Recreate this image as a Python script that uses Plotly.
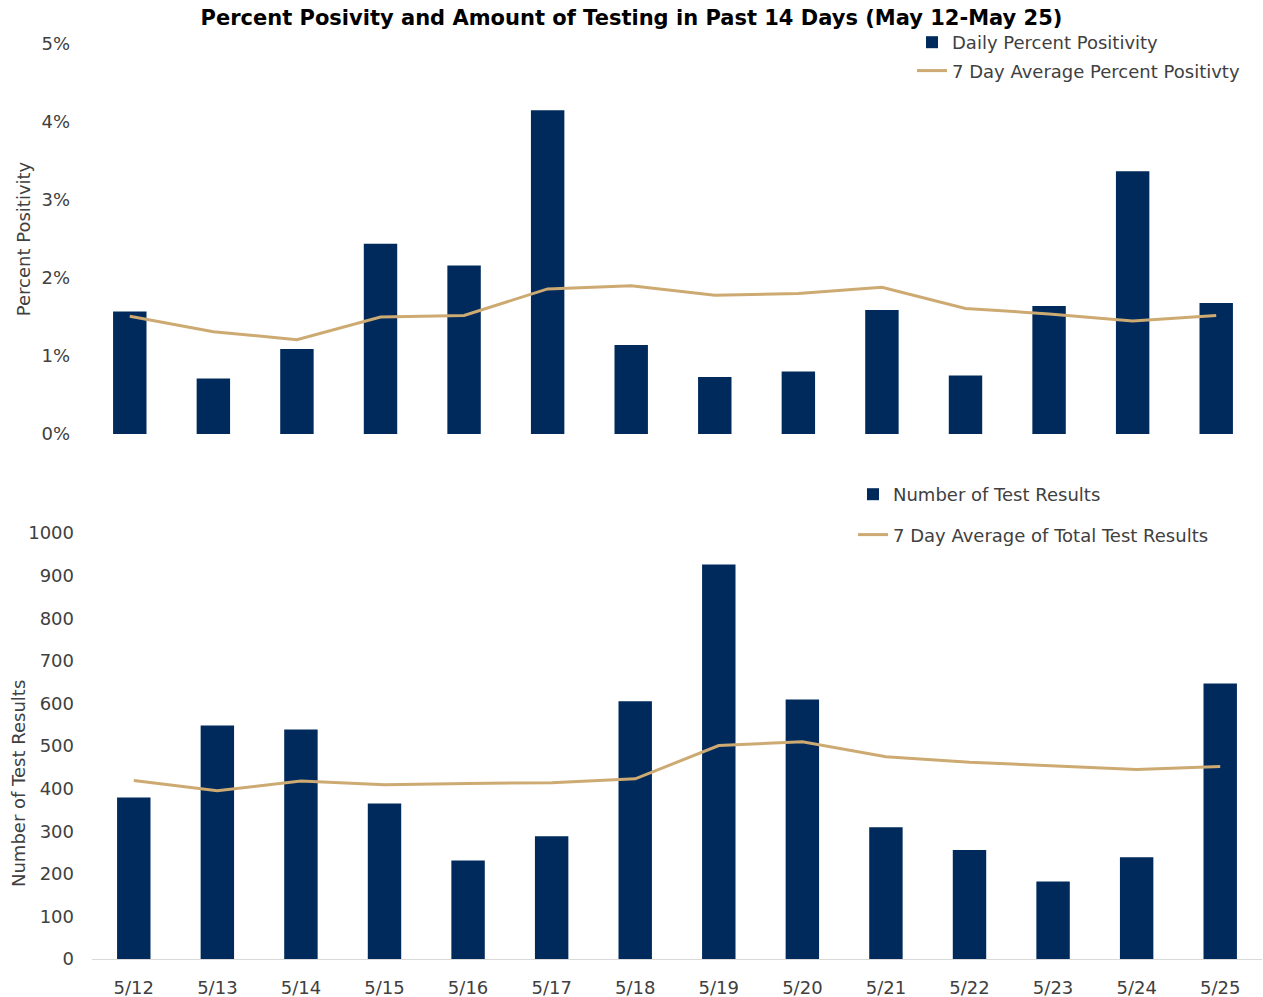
import plotly.graph_objects as go

dates = ["5/12", "5/13", "5/14", "5/15", "5/16", "5/17", "5/18",
         "5/19", "5/20", "5/21", "5/22", "5/23", "5/24", "5/25"]
daily_pos = [0.0157, 0.0071, 0.0109, 0.0244, 0.0216, 0.0415, 0.0114,
             0.0073, 0.0080, 0.0159, 0.0075, 0.0164, 0.0337, 0.0168]
avg_pos = [0.0151, 0.0131, 0.0121, 0.0150, 0.0152, 0.0186, 0.0190,
           0.0178, 0.0180, 0.0188, 0.0161, 0.0154, 0.0145, 0.0152]
tests = [379, 548, 539, 365, 231, 288, 605, 926, 609, 309, 256, 182, 239, 647]
avg_tests = [419, 395, 418, 409, 412, 414, 423, 501, 510, 475, 462, 454, 445, 452]
pct_ticks = [0, 0.01, 0.02, 0.03, 0.04, 0.05]
count_ticks = list(range(0, 1001, 100))

NAVY = "#002A5C"
TAN = "#CDAA72"
TXT = "#404040"
FONT = "DejaVu Sans"
W, H = 1263, 997

fig = go.Figure()
fig.add_trace(go.Bar(x=dates, y=daily_pos, name="Daily Percent Positivity",
                     marker=dict(color=NAVY, line=dict(width=0)),
                     xaxis="x", yaxis="y", legend="legend", legendgroup="a"))
fig.add_trace(go.Scatter(x=dates, y=avg_pos, name="7 Day Average Percent Positivty",
                         mode="lines", line=dict(color=TAN, width=3),
                         xaxis="x", yaxis="y", legend="legend", legendgroup="b"))
fig.add_trace(go.Bar(x=dates, y=tests, name="Number of Test Results",
                     marker=dict(color=NAVY, line=dict(width=0)),
                     xaxis="x2", yaxis="y2", legend="legend2", legendgroup="c"))
fig.add_trace(go.Scatter(x=dates, y=avg_tests, name="7 Day Average of Total Test Results",
                         mode="lines", line=dict(color=TAN, width=3),
                         xaxis="x2", yaxis="y2", legend="legend2", legendgroup="d"))

def px_x(p):
    return p / W

def px_y(p):
    return 1 - p / H

fig.update_layout(
    width=W, height=H,
    margin=dict(l=0, r=0, t=0, b=0, autoexpand=False),
    paper_bgcolor="white", plot_bgcolor="white",
    font=dict(family=FONT, size=18, color=TXT),
    bargap=0.6,
    title=dict(text="Percent Posivity and Amount of Testing in Past 14 Days (May 12-May 25)",
               x=0.5, xanchor="center", y=px_y(18), yanchor="middle",
               font=dict(family=FONT, size=21, color="#000000", weight=700)),
    xaxis=dict(domain=[px_x(88), px_x(1258)], anchor="y", type="category",
               categoryorder="array", categoryarray=dates, automargin=False,
               showticklabels=False, showline=False, showgrid=False, zeroline=False, ticks=""),
    yaxis=dict(domain=[px_y(434), px_y(44)], anchor="x", range=[0, 0.05], automargin=False,
               tickvals=pct_ticks, tickformat=".0%", showgrid=False, zeroline=False,
               showline=False, ticks="", ticklabelstandoff=17,
               title=dict(text="Percent Positivity", standoff=6, font=dict(size=18, color=TXT))),
    xaxis2=dict(domain=[px_x(92), px_x(1262)], anchor="y2", type="category",
                categoryorder="array", categoryarray=dates, automargin=False,
                showline=True, linecolor="#D9D9D9", linewidth=1, showgrid=False,
                zeroline=False, ticks="", ticklabelstandoff=12),
    yaxis2=dict(domain=[px_y(959), px_y(533)], anchor="x2", range=[0, 1000], automargin=False,
                tickvals=count_ticks, showgrid=False, zeroline=False, showline=False,
                ticks="", ticklabelstandoff=17),
    legend=dict(x=px_x(912), xanchor="left", y=px_y(24), yanchor="top",
                bgcolor="rgba(0,0,0,0)", traceorder="grouped", tracegroupgap=2,
                font=dict(size=18, color=TXT), itemwidth=30),
    legend2=dict(x=px_x(853), xanchor="left", y=px_y(476), yanchor="top",
                 bgcolor="rgba(0,0,0,0)", traceorder="grouped", tracegroupgap=14,
                 font=dict(size=18, color=TXT), itemwidth=30),
    annotations=[dict(text="Number of Test Results", textangle=-90,
                      xref="paper", yref="paper", x=px_x(18), y=px_y(784),
                      xanchor="center", yanchor="middle", showarrow=False,
                      font=dict(size=18, color=TXT))],
)

fig.write_html("out.html", config={"displayModeBar": False},
               post_script="document.body.style.margin='0';")
